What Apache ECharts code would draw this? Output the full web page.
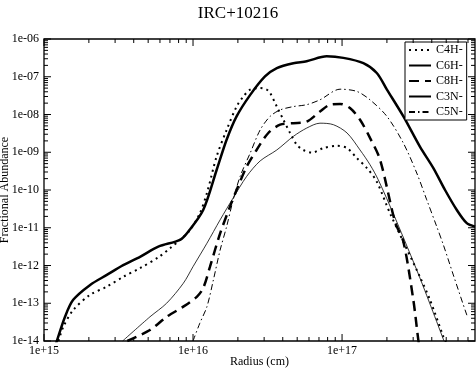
<!DOCTYPE html>
<html lang="en">
<head>
    <meta charset="utf-8">
    <script src="https://cdn.jsdelivr.net/npm/echarts@6/dist/echarts.min.js"></script>
    <title>IRC+10216</title>
    <style>
        html, body {
            margin: 0px;
            padding: 0px;
            background-color: #fff;
        }

        #chart {
            width: 476px;
            height: 368px;
        }
    </style>
</head>
<body>
<div id="chart"></div>
<script type="text/javascript">
    // [radius (cm), fractional abundance]
    var c4h = [
        [1.25e15, 1.0e-14], [1.35e15, 2.40e-14], [1.57e15, 6.61e-14], [2.03e15, 1.66e-13],
        [2.64e15, 2.75e-13], [3.40e15, 5.01e-13], [4.41e15, 8.51e-13], [5.92e15, 1.70e-12],
        [7.02e15, 2.88e-12], [8.18e15, 4.79e-12], [9.55e15, 8.71e-12], [1.11e16, 2.40e-11],
        [1.24e16, 8.32e-11], [1.44e16, 7.76e-10], [1.68e16, 3.89e-9], [1.96e16, 1.62e-8],
        [2.18e16, 3.02e-8], [2.42e16, 4.57e-8], [2.82e16, 5.01e-8], [3.12e16, 4.57e-8],
        [3.29e16, 3.72e-8], [3.65e16, 1.62e-8], [4.04e16, 7.24e-9], [4.48e16, 3.24e-9],
        [4.97e16, 1.58e-9], [5.50e16, 1.15e-9], [6.27e16, 9.77e-10], [7.50e16, 1.29e-9],
        [9.20e16, 1.48e-9], [1.08e17, 1.29e-9], [1.26e17, 6.92e-10], [1.47e17, 3.80e-10],
        [1.71e17, 1.66e-10], [2.10e17, 2.40e-11], [3.33e17, 5.01e-13], [3.90e17, 1.20e-13],
        [4.79e17, 1.29e-14], [4.99e17, 8.9e-15]
    ];

    var c6h = [
        [1.20e15, 8.0e-15], [1.22e15, 1.0e-14], [1.38e15, 4.27e-14], [1.57e15, 1.23e-13],
        [2.03e15, 3.02e-13], [2.64e15, 5.62e-13], [3.40e15, 1.02e-12], [4.41e15, 1.70e-12],
        [5.85e15, 3.16e-12], [8.18e15, 4.79e-12], [9.25e15, 7.76e-12], [1.17e16, 2.95e-11],
        [1.44e16, 3.39e-10], [1.68e16, 2.14e-9], [1.96e16, 8.91e-9], [2.42e16, 3.31e-8],
        [3.04e16, 1.02e-7], [3.65e16, 1.70e-7], [4.71e16, 2.29e-7], [5.79e16, 2.57e-7],
        [7.89e16, 3.47e-7], [1.02e17, 3.16e-7], [1.39e17, 2.29e-7], [1.71e17, 1.26e-7],
        [2.00e17, 4.57e-8], [2.58e17, 8.91e-9], [3.33e17, 1.41e-9], [4.10e17, 3.80e-10],
        [4.91e17, 1.0e-10], [5.89e17, 2.95e-11], [6.87e17, 1.32e-11], [7.80e17, 1.07e-11]
    ];

    var c8h = [
        [3.62e15, 1.0e-14], [5.14e15, 1.95e-14], [6.65e15, 4.37e-14], [8.61e15, 8.13e-14],
        [1.06e16, 1.48e-13], [1.17e16, 2.51e-13], [1.30e16, 9.33e-13], [1.52e16, 7.08e-12],
        [1.77e16, 3.63e-11], [1.96e16, 1.0e-10], [2.29e16, 4.17e-10], [2.67e16, 1.15e-9],
        [3.20e16, 3.24e-9], [3.84e16, 5.37e-9], [4.71e16, 5.89e-9], [5.79e16, 6.46e-9],
        [7.11e16, 1.20e-8], [8.30e16, 1.82e-8], [9.70e16, 1.91e-8], [1.13e17, 1.48e-8],
        [1.32e17, 7.24e-9], [1.54e17, 2.40e-9], [1.80e17, 6.31e-10], [2.27e17, 1.41e-11],
        [2.58e17, 4.27e-12], [3.01e17, 1.20e-13], [3.25e17, 1.05e-14], [3.30e17, 8.0e-15]
    ];

    var c3n = [
        [3.37e15, 1.0e-14], [5.14e15, 4.37e-14], [6.65e15, 1.0e-13], [8.61e15, 3.39e-13],
        [1.00e16, 9.33e-13], [1.24e16, 3.89e-12], [1.52e16, 1.62e-11], [1.86e16, 6.17e-11],
        [2.29e16, 2.29e-10], [2.82e16, 5.89e-10], [3.65e16, 1.15e-9], [4.71e16, 2.63e-9],
        [5.79e16, 4.37e-9], [7.11e16, 5.89e-9], [8.75e16, 5.37e-9], [1.08e17, 3.24e-9],
        [1.32e17, 1.15e-9], [1.54e17, 4.68e-10], [1.75e17, 1.86e-10], [2.27e17, 1.82e-11],
        [3.33e17, 4.68e-13], [4.83e17, 1.0e-14]
    ];

    var c5n = [
        [1.00e16, 1.0e-14], [1.11e16, 2.95e-14], [1.24e16, 8.13e-14], [1.37e16, 4.17e-13],
        [1.52e16, 2.57e-12], [1.68e16, 1.07e-11], [1.86e16, 5.50e-11], [2.07e16, 2.29e-10],
        [2.42e16, 9.55e-10], [2.82e16, 3.89e-9], [3.29e16, 8.91e-9], [3.84e16, 1.32e-8],
        [4.71e16, 1.62e-8], [5.79e16, 1.82e-8], [7.11e16, 2.45e-8], [9.70e16, 4.68e-8],
        [1.26e17, 4.07e-8], [1.54e17, 2.45e-8], [2.00e17, 8.91e-9], [2.58e17, 1.74e-9],
        [3.17e17, 2.82e-10], [3.70e17, 5.50e-11], [4.32e17, 1.07e-11], [4.79e17, 3.47e-12],
        [5.58e17, 5.62e-13], [6.87e17, 4.90e-14], [7.02e17, 4.07e-14]
    ];

    var seriesNames = ['C4H-', 'C6H-', 'C8H-', 'C3N-', 'C5N-'];

    // axis ticks (mirrored on all four sides, like the original plot)
    var xDecades = [1e15, 1e16, 1e17];
    var yDecades = [1e-14, 1e-13, 1e-12, 1e-11, 1e-10, 1e-9, 1e-8, 1e-7, 1e-6];
    var minorSteps = [2, 3, 4, 5, 6, 7, 8, 9];
    var xMin = 1e15, xMax = 7.8e17;
    var yMin = 1e-14, yMax = 1e-6;

    var font = '"Liberation Serif", "Times New Roman", serif';

    function buildTicks(decades, lo, hi) {
        var list = [];
        for (var i = 0; i < decades.length; i++) {
            list.push([decades[i], 1]);
            for (var j = 0; j < minorSteps.length; j++) {
                var v = decades[i] * minorSteps[j];
                if (v > lo && v < hi) list.push([v, 0]);
            }
        }
        return list;
    }

    function expLabel(v, sign) {
        var l = Math.log10(v);
        var e = Math.round(l);
        if (Math.abs(l - e) > 1e-6) return '';
        var a = Math.abs(e);
        return '1e' + sign + (a < 10 ? '0' + a : a);
    }

    var xTicks = buildTicks(xDecades, xMin, xMax).map(function (t) { return [t[0], 1e-10, t[1]]; });
    var yTicks = buildTicks(yDecades, yMin, yMax).map(function (t) { return [1e16, t[0], t[1]]; });

    function renderXTick(params, api) {
        var cs = params.coordSys;
        var px = api.coord([api.value(0), 1e-10])[0];
        var len = api.value(2) ? 7 : 4;
        var st = {stroke: '#000', lineWidth: 1};
        return {
            type: 'group',
            children: [
                {type: 'line', shape: {x1: px, y1: cs.y + cs.height, x2: px, y2: cs.y + cs.height - len}, style: st},
                {type: 'line', shape: {x1: px, y1: cs.y, x2: px, y2: cs.y + len}, style: st}
            ]
        };
    }

    function renderYTick(params, api) {
        var cs = params.coordSys;
        var py = api.coord([1e16, api.value(1)])[1];
        var len = api.value(2) ? 7 : 4;
        var st = {stroke: '#000', lineWidth: 1};
        return {
            type: 'group',
            children: [
                {type: 'line', shape: {x1: cs.x, y1: py, x2: cs.x + len, y2: py}, style: st},
                {type: 'line', shape: {x1: cs.x + cs.width, y1: py, x2: cs.x + cs.width - len, y2: py}, style: st}
            ]
        };
    }

    function lineSeries(name, data, style) {
        return {
            name: name,
            type: 'line',
            data: data,
            showSymbol: false,
            symbol: 'none',
            smooth: 0.3,
            clip: true,
            animation: false,
            lineStyle: style
        };
    }

    var myChart = echarts.init(document.getElementById('chart'));

    var option = {
        animation: false,
        backgroundColor: '#fff',
        title: {
            text: 'IRC+10216',
            left: 'center',
            top: 0,
            textStyle: {fontFamily: font, fontSize: 17, fontWeight: 'normal', color: '#000'}
        },
        legend: {
            data: seriesNames,
            orient: 'vertical',
            left: 405,
            top: 42,
            padding: [2, 4, 2, 3],
            itemGap: 3.5,
            itemWidth: 22,
            itemHeight: 10,
            backgroundColor: '#fff',
            borderColor: '#000',
            borderWidth: 1,
            borderRadius: 0,
            itemStyle: {opacity: 0},
            textStyle: {fontFamily: font, fontSize: 12, color: '#000', lineHeight: 10}
        },
        grid: {
            left: 44,
            right: 1,
            top: 39,
            bottom: 27,
            outerBoundsMode: 'none',
            containLabel: false,
            show: true,
            borderColor: '#000',
            borderWidth: 1.3,
            backgroundColor: 'transparent'
        },
        xAxis: {
            type: 'log',
            logBase: 10,
            min: xMin,
            max: xMax,
            name: 'Radius (cm)',
            nameLocation: 'middle',
            nameGap: 15,
            nameMoveOverlap: false,
            nameTextStyle: {fontFamily: font, fontSize: 12, color: '#000'},
            axisLine: {show: false},
            axisTick: {show: false},
            splitLine: {show: false},
            axisLabel: {
                fontFamily: font,
                fontSize: 12,
                color: '#000',
                margin: 4,
                formatter: function (v) { return expLabel(v, '+'); }
            }
        },
        yAxis: {
            type: 'log',
            logBase: 10,
            min: yMin,
            max: yMax,
            name: 'Fractional Abundance',
            nameLocation: 'middle',
            nameGap: 33,
            nameMoveOverlap: false,
            nameTextStyle: {fontFamily: font, fontSize: 12, color: '#000'},
            axisLine: {show: false},
            axisTick: {show: false},
            splitLine: {show: false},
            axisLabel: {
                fontFamily: font,
                fontSize: 12,
                color: '#000',
                margin: 5,
                formatter: function (v) { return expLabel(v, '-'); }
            }
        },
        series: [
            lineSeries('C4H-', c4h, {color: '#000', width: 2, type: [2, 4]}),
            lineSeries('C6H-', c6h, {color: '#000', width: 2.5, type: 'solid'}),
            lineSeries('C8H-', c8h, {color: '#000', width: 2.5, type: [10, 6]}),
            lineSeries('C3N-', c3n, {color: '#000', width: 0.8, type: 'solid'}),
            lineSeries('C5N-', c5n, {color: '#000', width: 1, type: [6, 3, 1.5, 3]}),
            {
                type: 'custom',
                silent: true,
                animation: false,
                renderItem: renderXTick,
                data: xTicks,
                z: 5
            },
            {
                type: 'custom',
                silent: true,
                animation: false,
                renderItem: renderYTick,
                data: yTicks,
                z: 5
            }
        ],
        color: ['#000', '#000', '#000', '#000', '#000']
    };

    myChart.setOption(option);
</script>
</body>
</html>
